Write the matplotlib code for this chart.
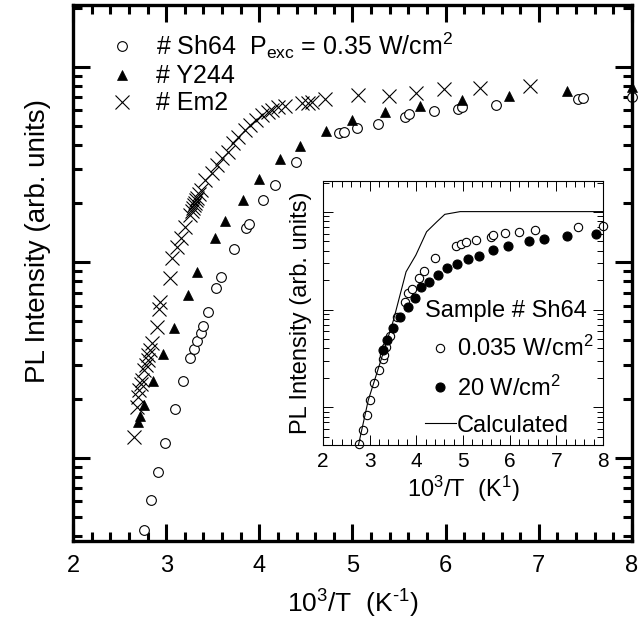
"""PL intensity vs inverse temperature, with inset"""

import matplotlib
matplotlib.use("Agg")
import matplotlib.pyplot as plt
from matplotlib import ticker as mticker

plt.rcParams["font.family"] = ["Liberation Sans", "DejaVu Sans"]
plt.rcParams["mathtext.fontset"] = "custom"
plt.rcParams["mathtext.rm"] = "Liberation Sans"
plt.rcParams["mathtext.it"] = "Liberation Sans:italic"
plt.rcParams["mathtext.default"] = "regular"

# main panel: 10^3/T (1/K) vs PL intensity (arb. units)
sh64_x = [2.76, 2.84, 2.91, 2.99, 3.10, 3.18, 3.26, 3.30, 3.33, 3.37, 3.39,
          3.45, 3.54, 3.59, 3.73, 3.86, 3.89, 4.04, 4.17, 4.39, 4.86, 4.91,
          5.05, 5.27, 5.56, 5.61, 5.88, 6.13, 6.18, 6.54, 7.42, 7.47, 8.0]
sh64_y = [0.43, 0.61, 0.85, 1.19, 1.78, 2.48, 3.25, 3.61, 3.97, 4.36, 4.73,
          5.58, 7.41, 8.43, 11.7, 15.0, 15.7, 20.9, 24.9, 32.7, 45.9, 46.5,
          48.8, 51.1, 55.5, 57.5, 59.6, 61.0, 62.4, 63.9, 68.6, 69.4, 70.2]

y244_x = [2.70, 2.72, 2.76, 2.86, 2.97, 3.08, 3.23, 3.33, 3.52, 3.63, 3.82,
          4.00, 4.22, 4.44, 4.72, 5.00, 5.35, 5.72, 6.18, 6.68, 7.30, 8.0]
y244_y = [1.53, 1.64, 1.87, 2.48, 3.40, 4.62, 6.82, 8.94, 13.3, 16.3, 20.9,
          26.7, 33.8, 39.4, 47.1, 53.6, 58.9, 63.2, 67.8, 71.1, 75.4, 79.0]

em2_x = [2.66, 2.69, 2.70, 2.71, 2.73, 2.74, 2.76, 2.78, 2.80, 2.81, 2.83,
         2.85, 2.90, 2.92, 2.93, 3.04, 3.06, 3.12, 3.16, 3.20, 3.26, 3.28,
         3.29, 3.30, 3.31, 3.32, 3.33, 3.35, 3.37, 3.42, 3.49, 3.55, 3.60,
         3.66, 3.72, 3.77, 3.85, 3.90, 3.96, 4.03, 4.09, 4.14, 4.20, 4.28,
         4.46, 4.52, 4.57, 4.71, 5.06, 5.39, 5.68, 5.98, 6.37, 6.91]
em2_y = [1.28, 1.82, 2.05, 2.23, 2.40, 2.51, 2.82, 3.00, 3.17, 3.35, 3.57,
         3.87, 4.68, 5.80, 6.30, 8.33, 10.5, 12.0, 13.3, 15.2, 17.5, 18.2,
         19.0, 19.6, 20.2, 20.8, 21.4, 22.4, 23.5, 26.4, 28.7, 31.5, 34.3,
         36.8, 40.9, 43.9, 47.6, 50.5, 53.6, 56.8, 58.9, 60.3, 62.4, 63.1,
         65.4, 65.4, 66.2, 68.6, 71.9, 71.1, 73.6, 77.1, 78.1, 80.0]

# inset: sample Sh64 at two excitation powers + calculated curve
low_x = [2.78, 2.86, 2.94, 3.01, 3.10, 3.20, 3.28, 3.31, 3.36, 3.44, 3.59,
         3.76, 3.83, 3.90, 4.06, 4.17, 4.40, 4.86, 4.95, 5.06, 5.28, 5.59,
         5.65, 5.90, 6.20, 6.54, 7.47, 8.0]
low_y = [0.42, 0.59, 0.83, 1.18, 1.79, 2.43, 3.09, 3.41, 4.15, 5.38, 8.43,
         12.0, 14.7, 16.1, 20.9, 25.0, 33.5, 44.8, 47.0, 49.6, 51.6, 55.8,
         58.1, 61.4, 62.8, 65.3, 69.7, 71.8]

high_x = [3.29, 3.38, 3.51, 3.64, 3.83, 3.97, 4.11, 4.28, 4.47, 4.65, 4.88,
          5.11, 5.35, 5.64, 5.97, 6.42, 6.74, 7.22, 7.86]
high_y = [3.85, 4.87, 6.41, 8.43, 10.7, 13.0, 17.1, 19.3, 22.6, 26.4, 29.1,
          32.7, 35.4, 40.7, 44.8, 50.4, 52.8, 57.1, 59.5]

calc_x = [2.76, 2.97, 3.22, 3.51, 3.78, 3.99, 4.22, 4.44, 4.61, 4.94, 8.0]
calc_y = [0.41, 1.18, 2.81, 7.8, 24.4, 36.2, 62.8, 79.5, 94.7, 101, 101]


def style_axes(ax, major, minor, width, spine_w, fsize):
    ax.set_yscale("log")
    ax.set_xlim(2, 8)
    ax.xaxis.set_major_locator(mticker.MultipleLocator(1))
    ax.xaxis.set_minor_locator(mticker.MultipleLocator(0.2))
    ax.yaxis.set_major_locator(mticker.LogLocator(base=10))
    ax.yaxis.set_minor_locator(mticker.LogLocator(base=10, subs=range(2, 10)))
    ax.yaxis.set_major_formatter(mticker.NullFormatter())
    ax.yaxis.set_minor_formatter(mticker.NullFormatter())
    ax.tick_params(which="both", direction="in", top=True, right=True,
                   width=width, labelsize=fsize)
    ax.tick_params(which="major", length=major, pad=10)
    ax.tick_params(which="minor", length=minor)
    for sp in ax.spines.values():
        sp.set_linewidth(spine_w)


fig = plt.figure(figsize=(6.41, 6.30), dpi=100)
ax1 = fig.add_axes([0.1139, 0.1413, 0.872, 0.8508])

ax1.plot(sh64_x, sh64_y, "o", ms=7, mfc="white", mec="black", mew=0.8,
         clip_on=False, label=r"# Sh64  P$_{exc}$ = 0.35 W/cm$^{2}$")
ax1.plot(y244_x, y244_y, "^", ms=7.5, mfc="black", mec="black", mew=0.5,
         clip_on=False, label="# Y244")
ax1.plot(em2_x, em2_y, "x", ms=10, mec="black", mew=0.8,
         label="# Em2")

style_axes(ax1, 12, 6.5, 2.2, 2.4, 17)
ax1.set_ylim(0.376, 207)
ax1.set_xlabel(r"10$^{3}$/T  (K$^{\text{-}1}$)", fontsize=19, labelpad=8)
ax1.set_ylabel("PL Intensity (arb. units)", fontsize=20)
ax1.yaxis.set_label_coords(-0.04, 0.56)

ax1.legend(loc="upper left", bbox_to_anchor=(0.065, 0.952), frameon=False,
           fontsize=18, handlelength=1.0, handletextpad=0.85,
           labelspacing=0.12, borderpad=0, borderaxespad=0)

# inset
ax2 = fig.add_axes([0.5039, 0.2937, 0.4368, 0.419])
ax2.plot(low_x, low_y, "o", ms=6, mfc="white", mec="black", mew=0.8,
         clip_on=False, label=r"0.035 W/cm$^{2}$")
ax2.plot(high_x, high_y, "o", ms=6.5, mfc="black", mec="black", mew=0.8,
         label=r"20 W/cm$^{2}$")
ax2.plot(calc_x, calc_y, "-", color="black", lw=0.8, label="Calculated")

style_axes(ax2, 7, 4.5, 0.7, 0.8, 15)
ax2.tick_params(which="major", pad=5)
ax2.set_ylim(0.41, 208)
ax2.set_xlabel(r"10$^{3}$/T  (K$^{1}$)", fontsize=17, labelpad=2)
ax2.set_ylabel("PL Intensity (arb. units)", fontsize=17, labelpad=3)

ax2.legend(loc="upper left", bbox_to_anchor=(0.364, 0.55),
           frameon=False, fontsize=17, title="Sample # Sh64",
           title_fontsize=17, handlelength=1.3, handletextpad=0.05,
           labelspacing=0.6, borderpad=0, borderaxespad=0,
           alignment="left")

fig.savefig("out.png", dpi=100)
